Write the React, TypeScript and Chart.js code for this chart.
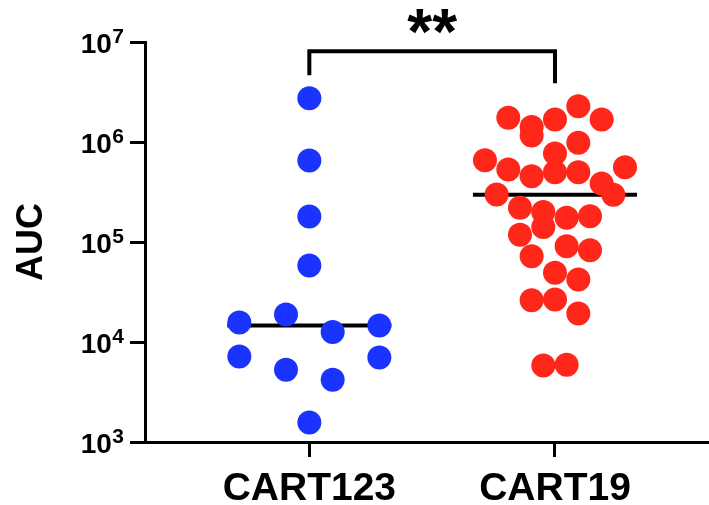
import React, { useEffect, useRef } from 'react';
import { Chart, registerables } from 'chart.js';

Chart.register(...registerables);

// ---------------- data ----------------
const CATEGORIES = ['CART123', 'CART19'];
const CART123_AUC = [
  2.74e6, 6.53e5, 1.8e5, 5.82e4,
  1.57e4, 1.88e4, 1.26e4, 1.46e4,
  7.16e3, 5.27e3, 4.19e3, 7.0e3,
  1.57e3,
];
const CART19_AUC = [
  1.75e6, 1.41e6, 1.68e6, 2.28e6, 1.68e6,
  1.16e6, 7.67e5, 9.82e5,
  6.58e5, 5.31e5, 4.55e5, 4.99e5, 4.99e5, 3.85e5, 5.6e5,
  2.99e5, 2.2e5, 2.0e5, 1.75e5, 1.81e5, 2.97e5,
  1.18e5, 1.41e5, 9.08e4, 8.28e4,
  7.21e4, 4.92e4, 4.22e4,
  2.62e4, 2.66e4, 1.93e4,
  5.82e3, 5.92e3,
];
const Y_TICKS = [1e3, 1e4, 1e5, 1e6, 1e7];
const Y_TITLE = 'AUC';
const SIGNIFICANCE = '**';

// ---------------- style ----------------
const FONT = '"Liberation Sans", Arial, Helvetica, sans-serif';
const BLUE = '#1a33ff';
const RED = '#ff261a';
const DOT_R = 12;
const ROW_DECADES = 0.24; // dots whose values lie within one dot height share a row
const SPREAD = 0.57; // widest row spans this many category units
const MEDIAN_HALF = 0.334;
const X_MIN = 0.331;
const X_MAX = 2.627;

function median(arr: number[]) {
  const s = [...arr].sort((a, b) => a - b);
  const n = s.length;
  return n % 2 ? s[(n - 1) / 2] : (s[n / 2 - 1] + s[n / 2]) / 2;
}

function swarm(values: number[], center: number) {
  const idx = values.map((_, i) => i).sort((a, b) => values[b] - values[a] || a - b);
  const rows: { start: number; members: number[] }[] = [];
  let cur: { start: number; members: number[] } | null = null;
  for (const i of idx) {
    const lv = Math.log10(values[i]);
    if (cur && cur.start - lv < ROW_DECADES) cur.members.push(i);
    else {
      cur = { start: lv, members: [i] };
      rows.push(cur);
    }
  }
  const maxN = Math.max(...rows.map((r) => r.members.length));
  const step = maxN > 1 ? SPREAD / (maxN - 1) : 0;
  const pts: { x: number; y: number }[] = [];
  rows.forEach((r) => {
    const m = [...r.members].sort((a, b) => a - b);
    m.forEach((i, k) => pts.push({ x: center + (k - (m.length - 1) / 2) * step, y: values[i] }));
  });
  return pts;
}

const yTickLabels = {
  id: 'yTickLabels',
  afterDraw(chart: any) {
    const ys = chart.scales.y;
    const ctx = chart.ctx;
    ctx.save();
    ctx.fillStyle = '#000';
    ctx.textAlign = 'right';
    ctx.textBaseline = 'alphabetic';
    const right = ys.right - 21;
    for (const v of Y_TICKS) {
      const y = ys.getPixelForValue(v);
      const sup = String(Math.round(Math.log10(v)));
      ctx.font = `bold 21px ${FONT}`;
      const supW = ctx.measureText(sup).width;
      ctx.fillText(sup, right, y + 0.5);
      ctx.font = `bold 28px ${FONT}`;
      ctx.fillText('10', right - supW - 0.5, y + 11);
    }
    ctx.restore();
  },
};

const bracket = {
  id: 'bracket',
  afterDatasetsDraw(chart: any) {
    const xs = chart.scales.x;
    const ys = chart.scales.y;
    const ctx = chart.ctx;
    const x1 = xs.getPixelForValue(1);
    const x2 = xs.getPixelForValue(2);
    const leg1 = ys.getPixelForValue(Math.max(...CART123_AUC)) - DOT_R - 11;
    const leg2 = ys.getPixelForValue(Math.max(...CART19_AUC)) - DOT_R - 11;
    const top = Math.min(leg1, leg2) - 24;
    ctx.save();
    ctx.strokeStyle = '#000';
    ctx.lineWidth = 4;
    ctx.lineJoin = 'miter';
    ctx.beginPath();
    ctx.moveTo(x1, leg1);
    ctx.lineTo(x1, top);
    ctx.lineTo(x2, top);
    ctx.lineTo(x2, leg2);
    ctx.stroke();
    ctx.font = `bold 64px ${FONT}`;
    ctx.fillStyle = '#000';
    ctx.textAlign = 'center';
    ctx.textBaseline = 'alphabetic';
    const m = ctx.measureText(SIGNIFICANCE);
    const bottom = top - 17;
    ctx.fillText(SIGNIFICANCE, (x1 + x2) / 2, bottom - m.actualBoundingBoxDescent);
    ctx.restore();
  },
};

export default function App() {
  const ref = useRef<HTMLCanvasElement | null>(null);
  useEffect(() => {
    document.body.style.margin = '0';
    if (!ref.current) return;
    const axisGrid = {
      drawOnChartArea: false,
      drawTicks: true,
      tickLength: 15,
      tickWidth: 3,
      tickColor: '#000',
    };
    const chart = new Chart(ref.current, {
      type: 'scatter',
      data: {
        datasets: [
          {
            type: 'scatter',
            data: swarm(CART123_AUC, 1),
            backgroundColor: BLUE,
            borderWidth: 0,
            pointRadius: DOT_R,
            pointHoverRadius: DOT_R,
            order: 0,
          },
          {
            type: 'scatter',
            data: swarm(CART19_AUC, 2),
            backgroundColor: RED,
            borderWidth: 0,
            pointRadius: DOT_R,
            pointHoverRadius: DOT_R,
            order: 0,
          },
          {
            type: 'line',
            data: [
              { x: 1 - MEDIAN_HALF, y: median(CART123_AUC) },
              { x: 1 + MEDIAN_HALF, y: median(CART123_AUC) },
            ],
            borderColor: '#000',
            borderWidth: 4,
            pointRadius: 0,
            order: 2,
          },
          {
            type: 'line',
            data: [
              { x: 2 - MEDIAN_HALF, y: median(CART19_AUC) },
              { x: 2 + MEDIAN_HALF, y: median(CART19_AUC) },
            ],
            borderColor: '#000',
            borderWidth: 4,
            pointRadius: 0,
            order: 2,
          },
        ],
      } as any,
      options: {
        responsive: false,
        animation: false,
        events: [],
        layout: { autoPadding: false, padding: { top: 42, left: 0, right: 0, bottom: 0 } },
        plugins: { legend: { display: false }, tooltip: { enabled: false } },
        scales: {
          x: {
            type: 'linear',
            min: X_MIN,
            max: X_MAX,
            afterBuildTicks: (s: any) => {
              s.ticks = CATEGORIES.map((_, i) => ({ value: i + 1 }));
            },
            afterFit: (s: any) => {
              s.height = 63;
            },
            ticks: {
              callback: (v: any) => CATEGORIES[Math.round(Number(v)) - 1] ?? '',
              font: { family: FONT, size: 39, weight: 'bold', lineHeight: 1 },
              color: '#000',
              padding: 13,
              maxRotation: 0,
              autoSkip: false,
            },
            grid: axisGrid,
            border: { display: true, color: '#000', width: 3 },
          },
          y: {
            type: 'logarithmic',
            min: Y_TICKS[0],
            max: Y_TICKS[Y_TICKS.length - 1],
            afterBuildTicks: (s: any) => {
              s.ticks = Y_TICKS.map((v) => ({ value: v, major: true }));
            },
            afterFit: (s: any) => {
              s.width = 145;
            },
            ticks: { display: false },
            grid: axisGrid,
            border: { display: true, color: '#000', width: 3 },
            title: {
              display: true,
              text: Y_TITLE,
              color: '#000',
              font: { family: FONT, size: 36, weight: 'bold', lineHeight: 1 },
              padding: { top: 14.5, bottom: 0 },
            },
          },
        },
      } as any,
      plugins: [yTickLabels, bracket],
    });
    return () => chart.destroy();
  }, []);
  return (
    <div style={{ width: 709, height: 505 }}>
      <canvas ref={ref} width={709} height={505} style={{ display: 'block' }} />
    </div>
  );
}
